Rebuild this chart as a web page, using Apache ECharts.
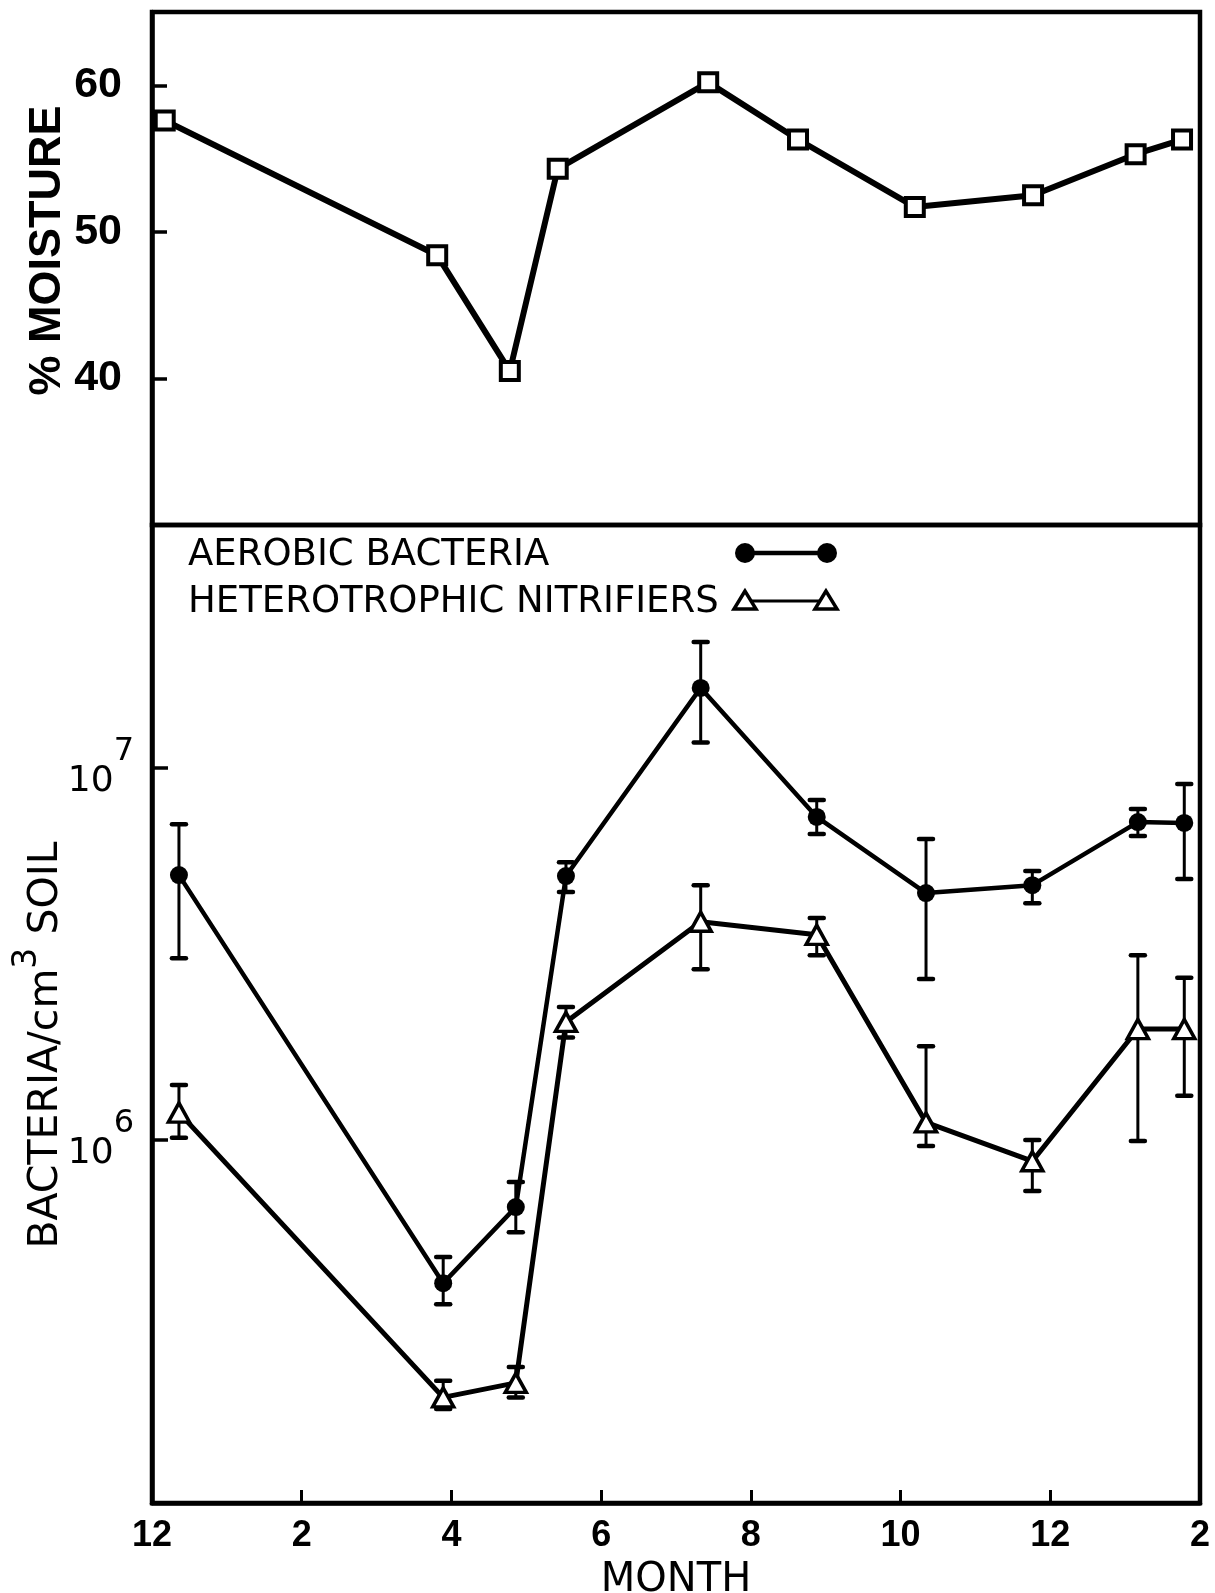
<!DOCTYPE html>
<html>
<head>
<meta charset="utf-8">
<title>Soil moisture and bacteria by month</title>
<script src="https://cdn.jsdelivr.net/npm/echarts@6/dist/echarts.min.js"></script>
<style>
  html, body { margin: 0; padding: 0; background: #fff; }
  #chart { width: 1215px; height: 1593px; }
</style>
</head>
<body>
<div id="chart"></div>
<script>
// Month axis: 0 = December, 14 = February of the following year
const monthLabels = ['12', '2', '4', '6', '8', '10', '12', '2'];

// Upper panel: soil moisture (%)
const moistureMonths = [0.17, 3.81, 4.78, 5.42, 7.43, 8.63, 10.19, 11.77, 13.14, 13.76];
const moisture = [57.6, 48.4, 40.5, 54.3, 60.2, 56.3, 51.7, 52.5, 55.3, 56.3];
const moistureTicks = [40, 50, 60];

// Lower panel: bacteria per cm3 of soil (log scale)
const seriesNames = ['AEROBIC BACTERIA', 'HETEROTROPHIC NITRIFIERS'];
const bacteriaMonths = [0.36, 3.89, 4.86, 5.53, 7.33, 8.88, 10.34, 11.76, 13.17, 13.79];
const aerobic = [5.14e6, 4.10e5, 6.57e5, 5.11e6, 1.64e7, 7.37e6, 4.60e6, 4.83e6, 7.14e6, 7.10e6];
const aerobicLow = [3.07e6, 3.60e5, 5.62e5, 4.63e6, 1.17e7, 6.63e6, 2.70e6, 4.32e6, 6.55e6, 5.02e6];
const aerobicHigh = [7.05e6, 4.82e5, 7.67e5, 5.57e6, 2.18e7, 8.19e6, 6.43e6, 5.27e6, 7.74e6, 9.04e6];
const nitrifiers = [1.18e6, 2.02e5, 2.21e5, 2.07e6, 3.85e6, 3.55e6, 1.11e6, 8.73e5, 1.98e6, 1.98e6];
const nitrifiersLow = [1.01e6, 1.88e5, 2.02e5, 1.88e6, 2.87e6, 3.13e6, 9.6e5, 7.26e5, 9.9e5, 1.31e6];
const nitrifiersHigh = [1.40e6, 2.24e5, 2.44e5, 2.27e6, 4.83e6, 3.94e6, 1.78e6, 9.95e5, 3.13e6, 2.72e6];
const bacteriaTicks = [1e6, 1e7];

const INK = '#000';
const pairs = (xs, ys) => xs.map((x, i) => [x, ys[i]]);
const bars = (xs, lo, hi) => xs.map((x, i) => [x, lo[i], hi[i]]);

// Vertical error bar with short caps at both ends
function errorBar(params, api) {
  const x = api.value(0);
  const top = api.coord([x, api.value(2)]);
  const bot = api.coord([x, api.value(1)]);
  const cap = 7;
  return {
    type: 'group',
    children: [
      { type: 'line', shape: { x1: top[0], y1: top[1], x2: bot[0], y2: bot[1] },
        style: { stroke: INK, lineWidth: 3 } },
      { type: 'line', shape: { x1: top[0] - cap, y1: top[1], x2: top[0] + cap, y2: top[1] },
        style: { stroke: INK, lineWidth: 4.5, lineCap: 'round' } },
      { type: 'line', shape: { x1: bot[0] - cap, y1: bot[1], x2: bot[0] + cap, y2: bot[1] },
        style: { stroke: INK, lineWidth: 4.5, lineCap: 'round' } }
    ]
  };
}

const chart = echarts.init(document.getElementById('chart'), null, { renderer: 'canvas' });

const frame = {
  show: true, borderColor: INK, borderWidth: 4.5, backgroundColor: 'transparent',
  containLabel: false, outerBoundsMode: 'none'
};

chart.setOption({
  backgroundColor: '#fff',
  animation: false,
  grid: [
    Object.assign({ left: 152, right: 15, top: 12, height: 513 }, frame),
    Object.assign({ left: 152, right: 15, top: 525, height: 978 }, frame)
  ],
  xAxis: [
    { gridIndex: 0, type: 'value', min: 0, max: 14, interval: 2, show: false },
    {
      gridIndex: 1, type: 'value', min: 0, max: 14, interval: 2,
      splitLine: { show: false },
      axisLine: { lineStyle: { color: INK, width: 4.5 } },
      axisTick: { inside: true, length: 13, lineStyle: { color: INK, width: 3 } },
      axisLabel: {
        margin: 15, color: INK, fontFamily: 'Liberation Sans', fontWeight: 'bold', fontSize: 36,
        formatter: v => monthLabels[Math.round(v / 2)]
      },
      name: 'MONTH', nameLocation: 'middle', nameGap: 58, nameMoveOverlap: false,
      nameTextStyle: { color: INK, fontFamily: 'DejaVu Sans', fontSize: 40 }
    }
  ],
  yAxis: [
    {
      gridIndex: 0, type: 'value', min: 30, max: 65, interval: 10,
      splitLine: { show: false },
      axisLine: { show: true, lineStyle: { color: INK, width: 4.5 } },
      axisTick: { inside: true, length: 15, customValues: moistureTicks,
        lineStyle: { color: INK, width: 3.5 } },
      axisLabel: { margin: 30, customValues: moistureTicks, color: INK,
        fontFamily: 'Liberation Sans', fontWeight: 'bold', fontSize: 43 },
      name: '% MOISTURE', nameLocation: 'middle', nameGap: 82, nameMoveOverlap: false,
      nameTextStyle: { color: INK, fontFamily: 'Liberation Sans', fontWeight: 'bold',
        fontSize: 45, padding: [0, 0, 0, 36] }
    },
    {
      gridIndex: 1, type: 'log', logBase: 10, min: 1.05e5, max: 4.5e7,
      splitLine: { show: false },
      minorTick: { show: false },
      axisLine: { show: true, lineStyle: { color: INK, width: 4.5 } },
      axisTick: { inside: true, length: 16, customValues: bacteriaTicks,
        lineStyle: { color: INK, width: 3.5 } },
      axisLabel: {
        margin: 18, customValues: bacteriaTicks,
        formatter: v => '{b|10}{s|' + Math.round(Math.log10(v)) + '}',
        rich: {
          b: { color: INK, fontFamily: 'DejaVu Sans', fontSize: 36, lineHeight: 64, verticalAlign: 'bottom' },
          s: { color: INK, fontFamily: 'DejaVu Sans', fontSize: 32, lineHeight: 32, verticalAlign: 'top' }
        }
      },
      name: '{t|BACTERIA/cm}{u|3}{t| SOIL}', nameLocation: 'middle', nameGap: 85, nameMoveOverlap: false,
      nameTextStyle: {
        color: INK, padding: [0, 62, 0, 0],
        rich: {
          t: { color: INK, fontFamily: 'DejaVu Sans', fontSize: 41, lineHeight: 56, verticalAlign: 'bottom' },
          u: { color: INK, fontFamily: 'DejaVu Sans', fontSize: 33, lineHeight: 33, verticalAlign: 'top' }
        }
      }
    }
  ],
  series: [
    {
      name: '% MOISTURE', type: 'line', xAxisIndex: 0, yAxisIndex: 0,
      data: pairs(moistureMonths, moisture),
      symbol: 'rect', symbolSize: 18,
      itemStyle: { color: '#fff', borderColor: INK, borderWidth: 4 },
      lineStyle: { color: INK, width: 6 }, z: 3
    },
    {
      name: seriesNames[0] + ' range', type: 'custom', xAxisIndex: 1, yAxisIndex: 1,
      renderItem: errorBar, data: bars(bacteriaMonths, aerobicLow, aerobicHigh),
      encode: { x: 0, y: [1, 2] }, z: 1
    },
    {
      name: seriesNames[1] + ' range', type: 'custom', xAxisIndex: 1, yAxisIndex: 1,
      renderItem: errorBar, data: bars(bacteriaMonths, nitrifiersLow, nitrifiersHigh),
      encode: { x: 0, y: [1, 2] }, z: 1
    },
    {
      name: seriesNames[0], type: 'line', xAxisIndex: 1, yAxisIndex: 1,
      data: pairs(bacteriaMonths, aerobic),
      symbol: 'circle', symbolSize: 18,
      itemStyle: { color: INK, borderColor: INK, borderWidth: 0 },
      lineStyle: { color: INK, width: 4.5 }, z: 3
    },
    {
      name: seriesNames[1], type: 'line', xAxisIndex: 1, yAxisIndex: 1,
      data: pairs(bacteriaMonths, nitrifiers),
      symbol: 'triangle', symbolSize: [21, 19],
      itemStyle: { color: '#fff', borderColor: INK, borderWidth: 3.5 },
      lineStyle: { color: INK, width: 5 }, z: 3
    }
  ],
  graphic: [
    { type: 'text', left: 188, top: 537,
      style: { text: seriesNames[0], fill: INK, font: '37px "DejaVu Sans"' } },
    { type: 'text', left: 188, top: 584,
      style: { text: seriesNames[1], fill: INK, font: '37px "DejaVu Sans"' } },
    { type: 'line', shape: { x1: 745, y1: 553, x2: 827, y2: 553 },
      style: { stroke: INK, lineWidth: 4.5 } },
    { type: 'circle', shape: { cx: 745, cy: 553, r: 10 }, style: { fill: INK } },
    { type: 'circle', shape: { cx: 827, cy: 553, r: 10 }, style: { fill: INK } },
    { type: 'line', shape: { x1: 745, y1: 601, x2: 826, y2: 601 },
      style: { stroke: INK, lineWidth: 3 } },
    { type: 'polygon', shape: { points: [[745, 591], [734, 609], [756, 609]] },
      style: { fill: '#fff', stroke: INK, lineWidth: 3.5 }, z: 10 },
    { type: 'polygon', shape: { points: [[826, 591], [815, 609], [837, 609]] },
      style: { fill: '#fff', stroke: INK, lineWidth: 3.5 }, z: 10 }
  ]
});
</script>
</body>
</html>
